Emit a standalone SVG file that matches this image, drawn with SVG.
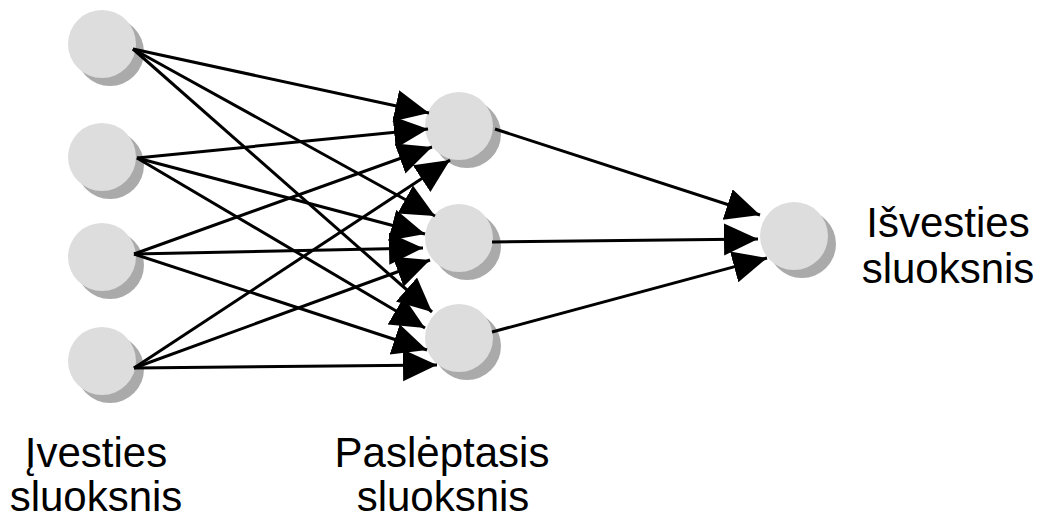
<svg xmlns="http://www.w3.org/2000/svg" width="1040" height="521" viewBox="0 0 1040 521">
<style>
.shadow{fill:#aaaaaa}
.node{fill:#dddddd}
.edge{stroke:#000;stroke-width:3;fill:none;marker-end:url(#arr)}
.lbl{font-family:"Liberation Sans",Arial,sans-serif;font-size:42px;fill:#000;text-anchor:middle}
</style>
<defs>
<marker id="arr" markerUnits="userSpaceOnUse" markerWidth="36" markerHeight="34" refX="34" refY="16" orient="auto">
<path d="M0,0 L34,16 L0,32 z" fill="#000"/>
</marker>
</defs>
<rect width="1040" height="521" fill="#fff"/>
<g id="in1"><circle class="shadow" cx="110" cy="52" r="34"/><circle class="node" cx="102" cy="44" r="34"/></g>
<g id="in2"><circle class="shadow" cx="110" cy="165" r="34"/><circle class="node" cx="102" cy="157" r="34"/></g>
<g id="in3"><circle class="shadow" cx="110" cy="265" r="34"/><circle class="node" cx="102" cy="257" r="34"/></g>
<g id="in4"><circle class="shadow" cx="110" cy="369" r="34"/><circle class="node" cx="102" cy="361" r="34"/></g>
<g id="h1"><circle class="shadow" cx="467" cy="134" r="34"/><circle class="node" cx="459" cy="126" r="34"/></g>
<g id="h2"><circle class="shadow" cx="467" cy="246" r="34"/><circle class="node" cx="459" cy="238" r="34"/></g>
<g id="h3"><circle class="shadow" cx="467" cy="346" r="34"/><circle class="node" cx="459" cy="338" r="34"/></g>
<g id="out"><circle class="shadow" cx="802" cy="244" r="34"/><circle class="node" cx="794" cy="236" r="34"/></g>
<g id="connectors">
<line class="edge" x1="133" y1="49" x2="429" y2="113"/>
<line class="edge" x1="133" y1="49" x2="435" y2="216"/>
<line class="edge" x1="133" y1="49" x2="432" y2="312"/>
<line class="edge" x1="137" y1="158" x2="428" y2="129"/>
<line class="edge" x1="137" y1="158" x2="425" y2="234"/>
<line class="edge" x1="137" y1="158" x2="425" y2="328"/>
<line class="edge" x1="134" y1="254" x2="432" y2="147"/>
<line class="edge" x1="134" y1="254" x2="423" y2="248"/>
<line class="edge" x1="134" y1="254" x2="427" y2="350"/>
<line class="edge" x1="134" y1="368" x2="450" y2="160"/>
<line class="edge" x1="134" y1="368" x2="430" y2="260"/>
<line class="edge" x1="134" y1="368" x2="437" y2="365"/>
<line class="edge" x1="495" y1="129" x2="760" y2="215"/>
<line class="edge" x1="492" y1="242" x2="758" y2="239"/>
<line class="edge" x1="492" y1="332" x2="767" y2="258"/>
</g>
<g id="labels">
<text class="lbl" x="96" y="467">Įvesties</text>
<text class="lbl" x="96" y="511">sluoksnis</text>
<text class="lbl" x="442" y="467">Paslėptasis</text>
<text class="lbl" x="443" y="511">sluoksnis</text>
<text class="lbl" x="948" y="237">Išvesties</text>
<text class="lbl" x="948" y="283">sluoksnis</text>
</g>
</svg>
